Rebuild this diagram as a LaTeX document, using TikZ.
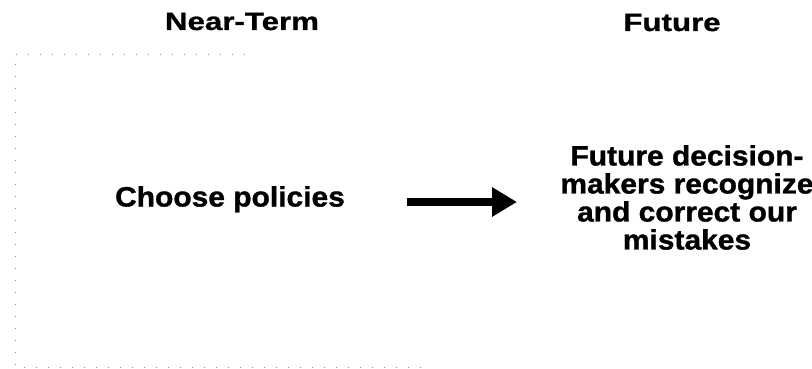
\documentclass[tikz,border=0pt]{standalone}
\usepackage{fontspec}
\setmainfont{Liberation Sans}
\newfontfamily\titlefont{Liberation Sans Bold}[FakeStretch=1.25,FakeBold=1]
\newfontfamily\bodyfont{Liberation Sans Bold}[FakeStretch=1.07,FakeBold=1.2]
\usetikzlibrary{arrows.meta}
\tikzset{
  title/.style={inner sep=0pt, anchor=base, font=\titlefont\fontsize{25}{25}\selectfont},
  body/.style={inner sep=0pt, align=center, font=\bodyfont\fontsize{28}{28}\selectfont},
  border/.style={draw=black!45, line width=0.9pt, dash pattern=on 1pt off 11pt},
  bigarrow/.style={line width=7.5pt, -{Triangle[length=25pt,width=28pt]}}
}
\begin{document}
\begin{tikzpicture}[x=1pt,y=-1pt]
\useasboundingbox (0,0) rectangle (812,369);
% faint dotted frame of the left panel
\coordinate (ftr) at (245,54);
\coordinate (ftl) at (15,54);
\coordinate (fbl) at (15,367);
\coordinate (fbr) at (430,367);
\draw[border] (ftr) -- (ftl) -- (fbl) -- (fbr);
% titles
\node[title] (near) at (242,30) {Near-Term};
\node[title] (fut) at (672,31) {Future};
% content
\node[body, anchor=base] (choose) at (230,206.5) {Choose policies};
\node[body, anchor=north] (future) at (687,145) {Future decision-\\makers recognize\\and correct our\\mistakes};
% arrow
\coordinate (a1) at (407,202);
\coordinate (a2) at (517,202);
\draw[bigarrow] (a1) -- (a2);
\end{tikzpicture}
\end{document}
